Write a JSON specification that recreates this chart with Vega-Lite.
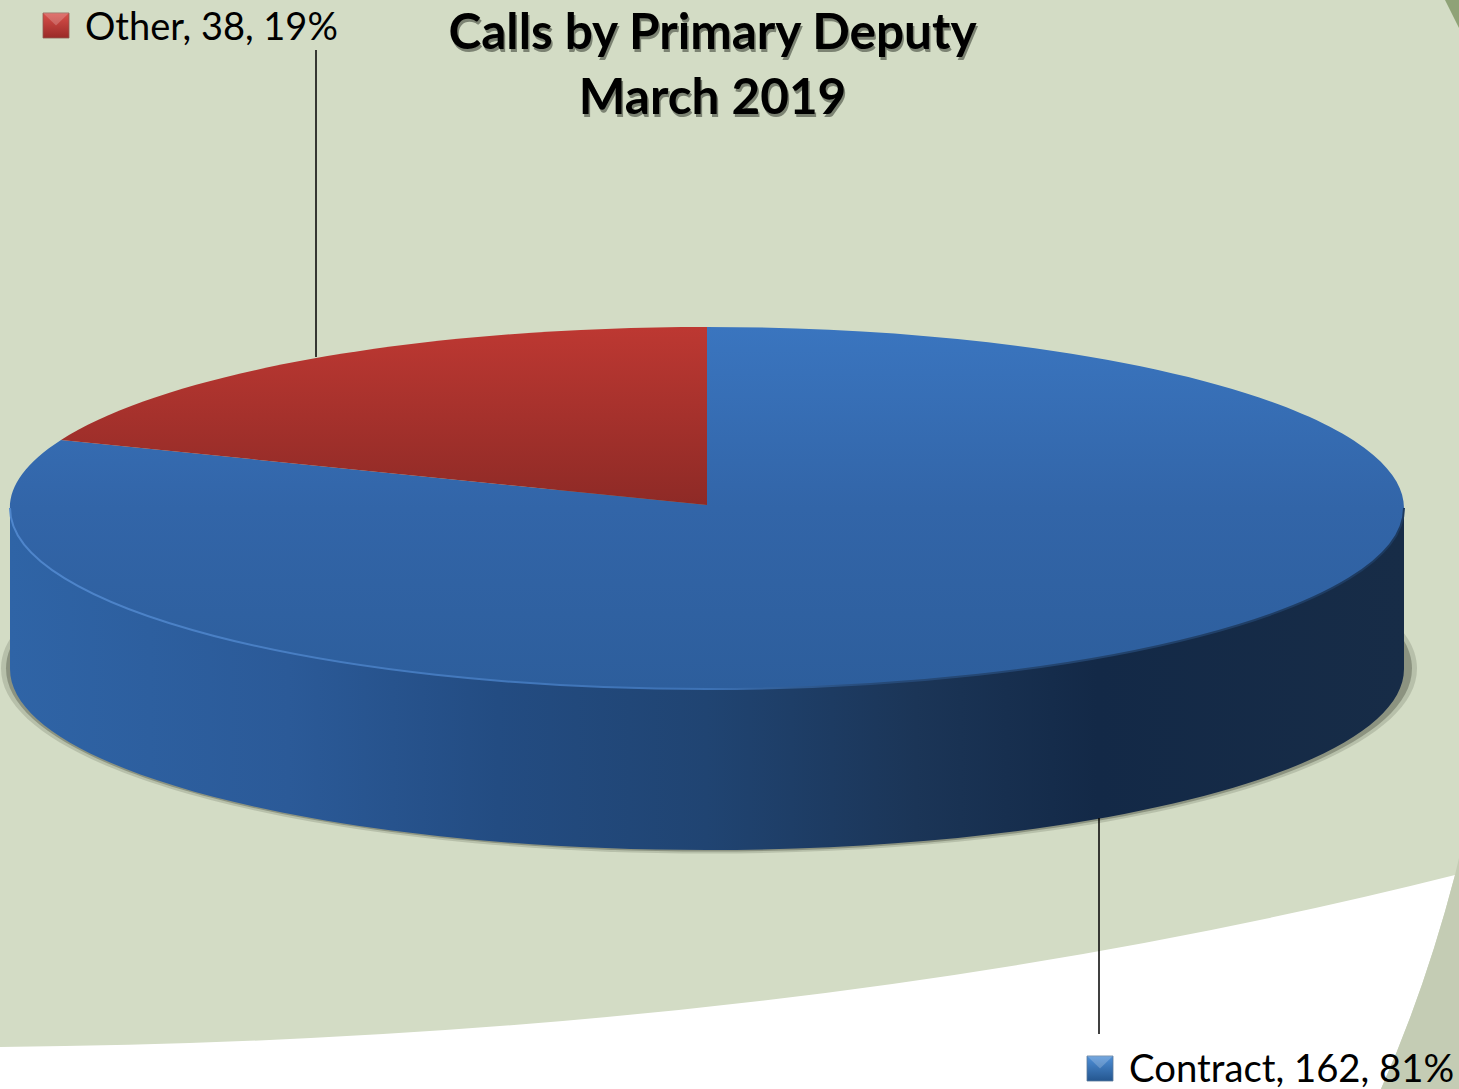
{
"$schema":"https://vega.github.io/schema/vega-lite/v6.json",
"width":1459,"height":1089,"padding":0,"autosize":{"type":"none"},
"background":"#d3dcc5",
"view":{"stroke":null,"fill":null},
"title":{"text":["Calls by Primary Deputy","March 2019"],"font":"Lato","fontWeight":"bold","fontSize":49.5,"lineHeight":65,"color":"#000000","anchor":"middle","dx":-17,"dy":124,"offset":0},
"datasets":{
"slices":[
{"category":"Contract","calls":162,"share":0.81,"label":"Contract, 162, 81%"},
{"category":"Other","calls":38,"share":0.19,"label":"Other, 38, 19%"}],
"decor":[{"part":"white"},{"part":"band"},{"part":"corner"}],
"titleLines":[{"line":"Calls by Primary Deputy"},{"line":"March 2019"}]
},
"data":{"name":"slices"},
"resolve":{"scale":{"shape":"independent","fill":"independent"}},
"layer":[
{"data":{"name":"decor"},"mark":{"type":"point","filled":true,"size":4,"opacity":1},
 "encoding":{"shape":{"field":"part","type":"nominal","legend":null,"scale":{"domain":["white","band","corner"],"range":[
 "M -729.5 502.5 Q 70.5 495.5 725.5 330.5 Q 695.5 445.5 651.5 544.5 L -729.5 544.5 Z",
 "M 729.5 313.5 L 725.5 330.5 Q 695.5 445.5 651.5 544.5 L 729.5 544.5 Z",
 "M 715.5 -544.5 L 729.5 -544.5 L 729.5 -516.5 Z"]}},
 "fill":{"field":"part","type":"nominal","legend":null,"scale":{"domain":["white","band","corner"],"range":["#ffffff","#c4ccb4","#8fa277"]}}}},
{"transform":[{"filter":"datum.category==='Contract'"}],"mark":{"type":"point","filled":true,"size":4,"opacity":1,"fill":"#4a4f40","fillOpacity":0.2,"shape":"M -728.5 124 A 708 185 0 1 0 687.5 124 A 708 185 0 1 0 -728.5 124 Z"}},
{"transform":[{"filter":"datum.category==='Contract'"}],"mark":{"type":"point","filled":true,"size":4,"opacity":1,"fill":"#4a4f40","fillOpacity":0.4,"shape":"M -723.5 124 A 703 183 0 1 0 682.5 124 A 703 183 0 1 0 -723.5 124 Z"}},
{"transform":[{"filter":"datum.category==='Contract'"}],"mark":{"type":"point","filled":true,"size":4,"opacity":1,
 "fill":{"gradient":"linear","x1":0,"y1":0,"x2":1,"y2":0,"stops":[{"offset":0,"color":"#2f64a6"},{"offset":0.2,"color":"#2b5a98"},{"offset":0.35,"color":"#234c82"},{"offset":0.5,"color":"#204472"},{"offset":0.65,"color":"#1b3557"},{"offset":0.78,"color":"#132947"},{"offset":1,"color":"#172c47"}]},
 "shape":"M -719.5 -36.5 L -719.5 124.5 A 697 181 0 0 0 674.5 124.5 L 674.5 -36.5 A 697 181 0 0 1 -719.5 -36.5 Z"}},
{"transform":[{"filter":"datum.category==='Contract'"}],"mark":{"type":"point","filled":true,"size":4,"opacity":1,
 "fill":{"gradient":"linear","x1":0,"y1":0,"x2":0,"y2":1,"stops":[{"offset":0,"color":"#3a75bf"},{"offset":0.5,"color":"#3265a8"},{"offset":1,"color":"#2d5e9c"}]}},
 "encoding":{"shape":{"field":"category","type":"nominal","legend":null,"scale":{"domain":["Contract"],"range":["M -22.5 -39.5 L -22.5 -217.5 A 697 181 0 1 1 -668.5 -104.5 Z"]}}}},
{"transform":[{"filter":"datum.category==='Other'"}],"mark":{"type":"point","filled":true,"size":4,"opacity":1,
 "fill":{"gradient":"linear","x1":0,"y1":0,"x2":0,"y2":1,"stops":[{"offset":0,"color":"#bd3832"},{"offset":1,"color":"#8e2a26"}]}},
 "encoding":{"shape":{"field":"category","type":"nominal","legend":null,"scale":{"domain":["Other"],"range":["M -22.5 -39.5 L -668.5 -104.5 A 697 181 0 0 1 -22.5 -217.5 Z"]}}}},
{"transform":[{"filter":"datum.category==='Contract'"}],"mark":{"type":"point","filled":false,"size":4,"opacity":1,"strokeWidth":2,
 "stroke":{"gradient":"linear","x1":0,"y1":0,"x2":1,"y2":0,"stops":[{"offset":0,"color":"#4f86cc"},{"offset":0.5,"color":"#3d72b5"},{"offset":0.62,"color":"#264a78"},{"offset":1,"color":"#1d3a5f"}]},
 "shape":"M -719.5 -36.5 A 697 181 0 0 0 674.5 -36.5"}},
{"mark":{"type":"point","filled":false,"size":4,"opacity":1,"stroke":"#000000","strokeWidth":1.5},
 "encoding":{"shape":{"field":"category","type":"nominal","legend":null,"scale":{"domain":["Contract","Other"],"range":["M 369.5 273.5 L 369.5 489.5","M -413.5 -494.5 L -413.5 -187.5"]}}}},
{"transform":[{"filter":"datum.category==='Other'"}],"mark":{"type":"point","filled":true,"size":4,"opacity":1,"stroke":"#8f5a50","strokeWidth":0.8,
 "fill":{"gradient":"linear","x1":0,"y1":0,"x2":0,"y2":1,"stops":[{"offset":0,"color":"#d9504a"},{"offset":1,"color":"#9a2a28"}]},
 "shape":"M -686.5 -531.5 L -660.5 -531.5 L -660.5 -506.5 L -686.5 -506.5 Z"}},
{"transform":[{"filter":"datum.category==='Contract'"}],"mark":{"type":"point","filled":true,"size":4,"opacity":1,"stroke":"#5a7a9a","strokeWidth":0.8,
 "fill":{"gradient":"linear","x1":0,"y1":0,"x2":0,"y2":1,"stops":[{"offset":0,"color":"#4f90d8"},{"offset":1,"color":"#24568f"}]},
 "shape":"M 357.5 511.5 L 383.5 511.5 L 383.5 536.5 L 357.5 536.5 Z"}},
{"mark":{"type":"point","filled":true,"size":4,"opacity":1,"fill":"#ffffff","fillOpacity":0.2},
 "encoding":{"shape":{"field":"category","type":"nominal","legend":null,"scale":{"domain":["Contract","Other"],"range":["M 357.5 511.5 L 383.5 511.5 L 370.5 524 Z","M -686.5 -531.5 L -660.5 -531.5 L -673.5 -519 Z"]}}}},
{"transform":[{"filter":"datum.category==='Other'"}],"mark":{"type":"text","font":"Lato","fontSize":38,"align":"left","baseline":"alphabetic","color":"#000000","dx":-644.5,"dy":-504.5},"encoding":{"text":{"field":"label"}}},
{"transform":[{"filter":"datum.category==='Contract'"}],"mark":{"type":"text","font":"Lato","fontSize":38.3,"align":"left","baseline":"alphabetic","color":"#000000","dx":399.5,"dy":537.5},"encoding":{"text":{"field":"label"}}},
{"data":{"name":"titleLines"},"transform":[{"filter":"datum.line==='Calls by Primary Deputy'"}],"mark":{"type":"text","font":"Lato","fontWeight":"bold","fontSize":49.5,"align":"center","baseline":"alphabetic","color":"#5f6658","opacity":0.75,"dx":-15.5,"dy":-493},"encoding":{"text":{"field":"line"}}},
{"data":{"name":"titleLines"},"transform":[{"filter":"datum.line==='March 2019'"}],"mark":{"type":"text","font":"Lato","fontWeight":"bold","fontSize":49.5,"align":"center","baseline":"alphabetic","color":"#5f6658","opacity":0.75,"dx":-15.5,"dy":-428},"encoding":{"text":{"field":"line"}}}
]
}
